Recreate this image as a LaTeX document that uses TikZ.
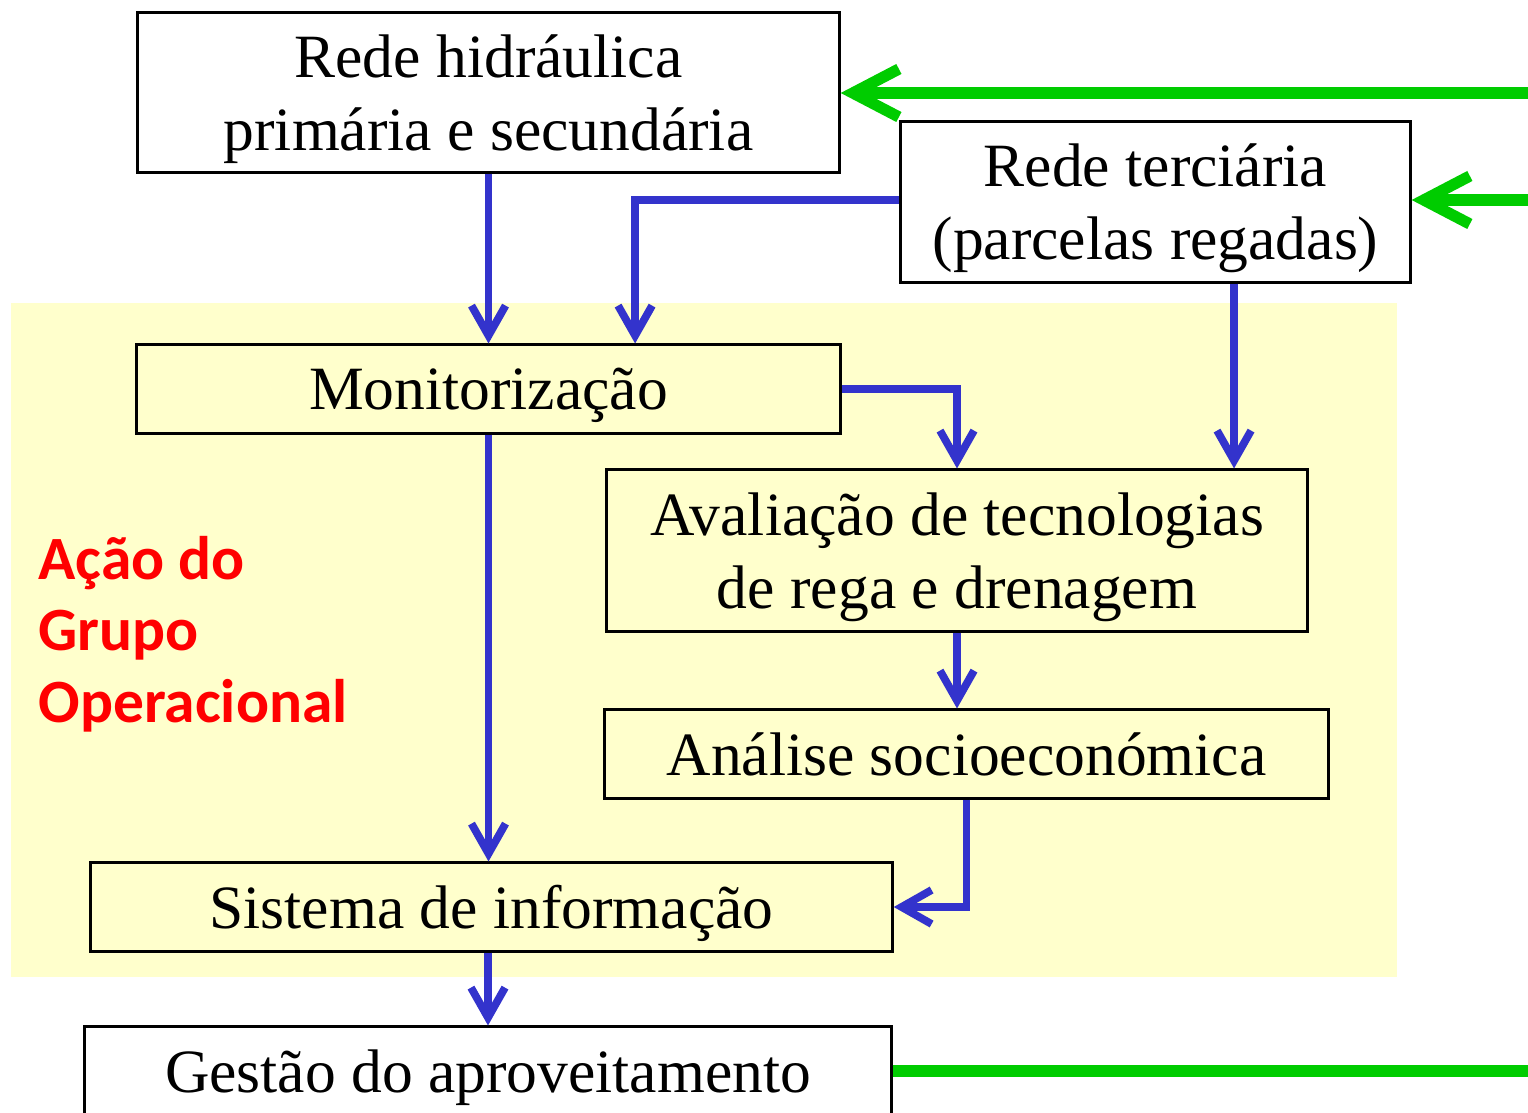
\documentclass[tikz,border=0pt]{standalone}
\usepackage{fontspec}
\setmainfont{Liberation Serif}
\newfontfamily\grpfont{Carlito}
\usetikzlibrary{arrows.meta,positioning,calc}
\definecolor{fundo}{HTML}{FFFFCC}
\definecolor{azul}{HTML}{3333CC}
\definecolor{verde}{HTML}{00CC00}
\begin{document}
\begin{tikzpicture}[x=0.01cm, y=-0.01cm,
    caixa/.style={draw, line width=0.85pt, inner sep=0pt, text depth=0pt, align=center, font=\fontsize{17.5}{20.7}\selectfont},
    arr/.style={-{Straight Barb[length=0.3cm, width=0.34cm]}, line width=2.2pt, draw=azul},
    garr/.style={-{Straight Barb[length=0.46cm, width=0.48cm]}, line width=3.2pt, draw=verde},
    gline/.style={line width=3.2pt, draw=verde}
]
\useasboundingbox (0,0) rectangle (1528,1113);
\fill[fundo] (11,303) rectangle (1397,977);

\node[caixa, fill=white, minimum width=7.01cm, minimum height=1.59cm] (RH) at (488.5,92.5) {Rede hidráulica\\primária e secundária};
\node[caixa, fill=white, minimum width=5.09cm, minimum height=1.6cm] (RT) at (1155.5,202) {Rede terciária\\(parcelas regadas)};
\node[caixa, fill=fundo, minimum width=7.03cm, minimum height=0.88cm] (M) at (488.5,389) {Monitorização};
\node[caixa, fill=fundo, minimum width=7.0cm, minimum height=1.61cm] (AV) at (957,550.5) {Avaliação de tecnologias\\de rega e drenagem};
\node[caixa, fill=fundo, minimum width=7.23cm, minimum height=0.88cm] (AS) at (966.5,754) {Análise socioeconómica};
\node[caixa, fill=fundo, minimum width=8.01cm, minimum height=0.88cm] (SI) at (491.5,907) {Sistema de informação};
\node[caixa, fill=white, minimum width=8.06cm, minimum height=0.88cm] (GA) at (488,1071) {Gestão do aproveitamento};

\node[anchor=west, align=left, inner sep=0pt, text=red, font=\grpfont\bfseries\fontsize{17.5}{20.3}\selectfont] (GO) at (38,634) {Ação do\\Grupo\\Operacional};

\coordinate (e1) at (1528,93);
\coordinate (e2) at (1528,200);
\coordinate (e3) at (1528,1071);

% ligacoes
\draw[arr] (RH.south) -- (RH.south |- M.north);
\draw[arr] ([yshift=0.02cm]RT.west) -| ([xshift=1.465cm]M.north);
\draw[arr] ([xshift=0.785cm]RT.south) -- ([xshift=0.785cm]RT.south |- AV.north);
\draw[arr] (M.east) -| (AV.north);
\draw[arr] (M.south) -- (M.south |- SI.north);
\draw[arr] (AV.south) -- (AV.south |- AS.north);
\draw[arr] (AS.south) |- (SI.east);
\draw[arr] (GA.north |- SI.south) -- (GA.north);

\draw[garr] (e1) -- (RH.east |- e1);
\draw[garr] (e2) -- (RT.east |- e2);
\draw[gline] (GA.east) -- (e3);
\end{tikzpicture}
\end{document}
